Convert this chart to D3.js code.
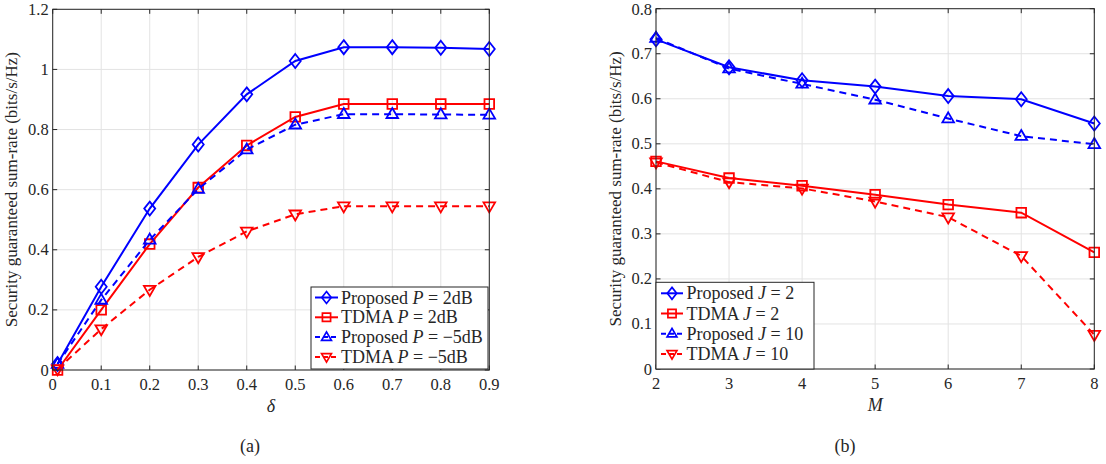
<!DOCTYPE html>
<html><head><meta charset="utf-8">
<script src="https://cdn.jsdelivr.net/npm/d3@7"></script>
<style>
body{margin:0;background:#fff}
svg{display:block}
</style>
</head><body>
<svg id="c" width="1106" height="464" font-family="'Liberation Serif', 'Times New Roman', Times, 'DejaVu Serif', serif"></svg>
<script>
// ---------- data (a) ----------
const deltaX = [0.01, 0.1, 0.2, 0.3, 0.4, 0.5, 0.6, 0.7, 0.8, 0.9];
const propP2  = [0.020, 0.277, 0.537, 0.750, 0.917, 1.028, 1.074, 1.074, 1.072, 1.068];
const tdmaP2  = [0.000, 0.200, 0.419, 0.607, 0.747, 0.842, 0.885, 0.885, 0.885, 0.885];
const propPm5 = [0.020, 0.233, 0.433, 0.602, 0.733, 0.816, 0.851, 0.851, 0.850, 0.849];
const tdmaPm5 = [0.003, 0.136, 0.267, 0.376, 0.461, 0.518, 0.545, 0.545, 0.545, 0.545];
const ticksAx = [0, 0.1, 0.2, 0.3, 0.4, 0.5, 0.6, 0.7, 0.8, 0.9];
const ticksAxLabels = ["0","0.1","0.2","0.3","0.4","0.5","0.6","0.7","0.8","0.9"];
const ticksAy = [0, 0.2, 0.4, 0.6, 0.8, 1.0, 1.2];
const ticksAyLabels = ["0","0.2","0.4","0.6","0.8","1","1.2"];
// ---------- data (b) ----------
const mX = [2, 3, 4, 5, 6, 7, 8];
const propJ2  = [0.732, 0.670, 0.641, 0.627, 0.606, 0.599, 0.545];
const tdmaJ2  = [0.461, 0.424, 0.407, 0.387, 0.365, 0.347, 0.259];
const propJ10 = [0.735, 0.667, 0.633, 0.598, 0.556, 0.517, 0.499];
const tdmaJ10 = [0.459, 0.415, 0.401, 0.372, 0.337, 0.251, 0.076];
const ticksBx = [2, 3, 4, 5, 6, 7, 8];
const ticksBxLabels = ["2","3","4","5","6","7","8"];
const ticksBy = [0, 0.1, 0.2, 0.3, 0.4, 0.5, 0.6, 0.7, 0.8];
const ticksByLabels = ["0","0.1","0.2","0.3","0.4","0.5","0.6","0.7","0.8"];

const legendA = [
  {pre:"Proposed ", v:"P", post:" = 2dB"},
  {pre:"TDMA ", v:"P", post:" = 2dB"},
  {pre:"Proposed ", v:"P", post:" = \u22125dB"},
  {pre:"TDMA ", v:"P", post:" = \u22125dB"}
];
const legendB = [
  {pre:"Proposed ", v:"J", post:" = 2"},
  {pre:"TDMA ", v:"J", post:" = 2"},
  {pre:"Proposed ", v:"J", post:" = 10"},
  {pre:"TDMA ", v:"J", post:" = 10"}
];

const BLUE = "#0000ff", RED = "#ff0000", AX = "#262626", GRID = "#e3e3e3";

const markerPath = {
  diamond: "M0,-7L5.5,0L0,7L-5.5,0Z",
  square: "M-4.8,-4.8H4.8V4.8H-4.8Z",
  up: "M0,-6.2L5.8,3.8H-5.8Z",
  down: "M0,6.2L5.8,-3.8H-5.8Z"
};

const svg = d3.select("#c");
const FF = "'Liberation Serif', 'Times New Roman', Times, 'DejaVu Serif', serif";

function txt(sel) { return sel.append("text").attr("font-family", FF).attr("fill", AX); }

function panel(cfg) {
  const g = svg.append("g");
  const x = d3.scaleLinear().domain(cfg.xd).range([cfg.x0, cfg.x1]);
  const y = d3.scaleLinear().domain(cfg.yd).range([cfg.y1, cfg.y0]);

  // grid
  g.selectAll(null).data(cfg.tx).enter().append("line")
    .attr("x1", d => x(d)).attr("x2", d => x(d))
    .attr("y1", cfg.y0).attr("y2", cfg.y1)
    .attr("stroke", GRID).attr("stroke-width", 1);
  g.selectAll(null).data(cfg.ty).enter().append("line")
    .attr("y1", d => y(d)).attr("y2", d => y(d))
    .attr("x1", cfg.x0).attr("x2", cfg.x1)
    .attr("stroke", GRID).attr("stroke-width", 1);

  // series
  const line = d3.line().x(d => x(d[0])).y(d => y(d[1]));
  cfg.series.forEach(s => {
    const pts = cfg.xs.map((v, i) => [v, s.vals[i]]);
    g.append("path").attr("d", line(pts)).attr("fill", "none")
      .attr("stroke", s.color).attr("stroke-width", 2)
      .attr("stroke-dasharray", s.dash ? "7,5" : null);
    g.selectAll(null).data(pts).enter().append("path")
      .attr("d", markerPath[s.marker])
      .attr("transform", d => `translate(${x(d[0])},${y(d[1])})`)
      .attr("fill", "none").attr("stroke", s.color).attr("stroke-width", 1.8);
  });

  // box
  g.append("rect").attr("x", cfg.x0).attr("y", cfg.y0)
    .attr("width", cfg.x1 - cfg.x0).attr("height", cfg.y1 - cfg.y0)
    .attr("fill", "none").attr("stroke", AX).attr("stroke-width", 1);

  // ticks
  const tl = 4.5;
  cfg.tx.forEach(t => {
    g.append("line").attr("x1", x(t)).attr("x2", x(t)).attr("y1", cfg.y1).attr("y2", cfg.y1 - tl).attr("stroke", AX);
    g.append("line").attr("x1", x(t)).attr("x2", x(t)).attr("y1", cfg.y0).attr("y2", cfg.y0 + tl).attr("stroke", AX);
  });
  cfg.ty.forEach(t => {
    g.append("line").attr("y1", y(t)).attr("y2", y(t)).attr("x1", cfg.x0).attr("x2", cfg.x0 + tl).attr("stroke", AX);
    g.append("line").attr("y1", y(t)).attr("y2", y(t)).attr("x1", cfg.x1).attr("x2", cfg.x1 - tl).attr("stroke", AX);
  });

  // tick labels
  cfg.tx.forEach((d, i) => {
    txt(g).attr("x", x(d)).attr("y", cfg.y1 + 20)
      .attr("text-anchor", "middle").attr("font-size", 16.5)
      .text(cfg.txl[i]);
  });
  cfg.ty.forEach((d, i) => {
    txt(g).attr("x", cfg.x0 - 4).attr("y", d === cfg.yd[1] ? y(d) + 6 : y(d) + 5.5)
      .attr("text-anchor", "end").attr("font-size", 16.5)
      .text(cfg.tyl[i]);
  });

  // axis labels
  txt(g).attr("x", (cfg.x0 + cfg.x1) / 2).attr("y", cfg.y1 + 42)
    .attr("text-anchor", "middle").attr("font-size", 18).attr("font-style", "italic")
    .text(cfg.xlabel);
  txt(g).attr("transform", `translate(${cfg.x0 - 35.5},${(cfg.y0 + cfg.y1) / 2}) rotate(-90)`)
    .attr("text-anchor", "middle").attr("font-size", 17)
    .text("Security guaranteed sum-rate (bits/s/Hz)");
  txt(g).attr("x", cfg.capX).attr("y", 452)
    .attr("text-anchor", "middle").attr("font-size", 18).text(cfg.caption);

  // legend
  const L = cfg.legend;
  g.append("rect").attr("x", L.x).attr("y", L.y).attr("width", L.w).attr("height", L.h)
    .attr("fill", "#fff").attr("stroke", AX).attr("stroke-width", 1);
  cfg.series.forEach((s, i) => {
    const yy = L.y + L.first + i * L.step;
    g.append("line").attr("x1", L.x + L.lx0).attr("x2", L.x + L.lx1).attr("y1", yy).attr("y2", yy)
      .attr("stroke", s.color).attr("stroke-width", 2)
      .attr("stroke-dasharray", s.dash ? "5,3" : null);
    g.append("path").attr("d", markerPath[s.marker])
      .attr("transform", `translate(${L.x + (L.lx0 + L.lx1) / 2},${yy}) scale(0.85)`)
      .attr("fill", "none").attr("stroke", s.color).attr("stroke-width", 2);
    const t = txt(g).attr("x", L.x + L.tx).attr("y", yy + 6).attr("font-size", 18);
    t.append("tspan").text(L.items[i].pre);
    t.append("tspan").attr("font-style", "italic").text(L.items[i].v);
    t.append("tspan").text(L.items[i].post);
  });
}

panel({
  x0: 52.7, x1: 489.3, y0: 9.3, y1: 370,
  xd: [0, 0.9], yd: [0, 1.2], xs: deltaX,
  tx: ticksAx, txl: ticksAxLabels, ty: ticksAy, tyl: ticksAyLabels,
  xlabel: "\u03b4", caption: "(a)", capX: 250,
  series: [
    {vals: propP2, color: BLUE, marker: "diamond", dash: false},
    {vals: tdmaP2, color: RED, marker: "square", dash: false},
    {vals: propPm5, color: BLUE, marker: "up", dash: true},
    {vals: tdmaPm5, color: RED, marker: "down", dash: true}
  ],
  legend: {x: 311, y: 287, w: 177, h: 82, first: 10.5, step: 19.8, lx0: 4, lx1: 27, tx: 30, items: legendA}
});

panel({
  x0: 656, x1: 1094.3, y0: 8.7, y1: 369,
  xd: [2, 8], yd: [0, 0.8], xs: mX,
  tx: ticksBx, txl: ticksBxLabels, ty: ticksBy, tyl: ticksByLabels,
  xlabel: "M", caption: "(b)", capX: 845,
  series: [
    {vals: propJ2, color: BLUE, marker: "diamond", dash: false},
    {vals: tdmaJ2, color: RED, marker: "square", dash: false},
    {vals: propJ10, color: BLUE, marker: "up", dash: true},
    {vals: tdmaJ10, color: RED, marker: "down", dash: true}
  ],
  legend: {x: 656, y: 282.3, w: 158, h: 86.7, first: 11, step: 20.2, lx0: 5, lx1: 27, tx: 30.5, items: legendB}
});
</script>
</body></html>
